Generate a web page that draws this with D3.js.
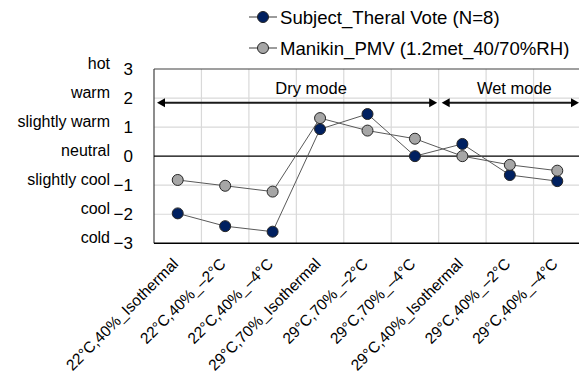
<!DOCTYPE html>
<html>
<head>
<meta charset="utf-8">
<script src="https://cdn.jsdelivr.net/npm/d3@7"></script>
<style>
  body { margin: 0; background: #fff; }
  svg { display: block; }
</style>
</head>
<body>
<svg id="chart"></svg>
<script>
// data
const categories = [
    "22°C,40%_Isothermal", "22°C,40%_–2°C", "22°C,40%_–4°C",
    "29°C,70%_Isothermal", "29°C,70%_–2°C", "29°C,70%_–4°C",
    "29°C,40%_Isothermal", "29°C,40%_–2°C", "29°C,40%_–4°C"
];
const subjectVote = [-1.97, -2.41, -2.6, 0.93, 1.45, 0, 0.42, -0.65, -0.86];
const manikinPMV = [-0.82, -1.02, -1.22, 1.31, 0.88, 0.6, 0, -0.3, -0.5];
const seriesNames = ["Subject_Theral Vote (N=8)", "Manikin_PMV (1.2met_40/70%RH)"];
const yTicks = [3, 2, 1, 0, -1, -2, -3];
const sensationLabels = ["hot", "warm", "slightly warm", "neutral", "slightly cool", "cool", "cold"];
const modeNames = ["Dry mode", "Wet mode"];
const modeFirst = [0, 6];
const modeLast = [5, 8];
const modeLevel = 1.84;

const width = 579, height = 383;
const plot = { left: 154, right: 581, top: 69, bottom: 243.3 };

const svg = d3.select("#chart").attr("width", width).attr("height", height);

const x = d3.scaleBand().domain(categories).range([plot.left, plot.right]);
const cx = d => x(d) + x.bandwidth() / 2;
const y = d3.scaleLinear().domain([-3, 3]).range([plot.bottom, plot.top]);

// grid
svg.append("g")
    .selectAll("line.h")
    .data(yTicks.filter(v => v !== 3 && v !== -3 && v !== 0))
    .enter().append("line")
    .attr("x1", plot.left).attr("x2", plot.right)
    .attr("y1", d => y(d)).attr("y2", d => y(d))
    .attr("stroke", "#d9d9d9").attr("stroke-width", 1.2);

svg.append("g")
    .selectAll("line.v")
    .data(categories.slice(1))
    .enter().append("line")
    .attr("x1", d => x(d)).attr("x2", d => x(d))
    .attr("y1", plot.top).attr("y2", plot.bottom)
    .attr("stroke", "#d9d9d9").attr("stroke-width", 1.2);

// frame
svg.append("line").attr("x1", plot.left).attr("x2", plot.right)
    .attr("y1", plot.top).attr("y2", plot.top).attr("stroke", "#404040").attr("stroke-width", 1.2);
svg.append("line").attr("x1", plot.left).attr("x2", plot.left)
    .attr("y1", plot.top).attr("y2", plot.bottom).attr("stroke", "#404040").attr("stroke-width", 1.2);
svg.append("line").attr("x1", plot.left).attr("x2", plot.right)
    .attr("y1", y(0)).attr("y2", y(0)).attr("stroke", "#000").attr("stroke-width", 1.2);
svg.append("line").attr("x1", plot.left).attr("x2", plot.right)
    .attr("y1", plot.bottom).attr("y2", plot.bottom).attr("stroke", "#000").attr("stroke-width", 1.6);

// y axis numbers
const yAxis = svg.append("g")
    .attr("transform", `translate(${plot.left},0)`)
    .call(d3.axisLeft(y).tickValues(yTicks).tickSize(0).tickPadding(21).tickFormat(d3.format("d")));
yAxis.select(".domain").remove();
yAxis.selectAll("text")
    .attr("font-family", "Liberation Sans, Arial, sans-serif")
    .attr("font-size", 17).attr("fill", "#000");

// sensation words
svg.append("g")
    .selectAll("text")
    .data(yTicks)
    .enter().append("text")
    .attr("x", 110)
    .attr("y", d => y(d) - 5)
    .attr("dy", "0.32em")
    .attr("text-anchor", "end")
    .attr("font-family", "Liberation Sans, Arial, sans-serif")
    .attr("font-size", 16)
    .text((d, i) => sensationLabels[i]);

// x labels
svg.append("g")
    .selectAll("text")
    .data(categories)
    .enter().append("text")
    .attr("transform", d => `translate(${cx(d) - 2},${plot.bottom + 18}) rotate(-45)`)
    .attr("text-anchor", "end")
    .attr("dy", "0.32em")
    .attr("font-family", "Liberation Sans, Arial, sans-serif")
    .attr("font-size", 15.5)
    .text(d => d);

// mode arrows
const arrowY = y(modeLevel);
const arrowHead = (px, dir) => {
    const len = 8, half = 4.5;
    return `M${px},${arrowY} L${px - dir * len},${arrowY - half} L${px - dir * len},${arrowY + half} Z`;
};
modeNames.forEach((name, i) => {
    const x1 = x(categories[modeFirst[i]]) + 3;
    const x2 = x(categories[modeLast[i]]) + x.bandwidth() - (i === 0 ? 1.5 : 2);
    svg.append("line")
        .attr("x1", x1 + 6).attr("x2", x2 - 6)
        .attr("y1", arrowY).attr("y2", arrowY)
        .attr("stroke", "#1a1a1a").attr("stroke-width", 2);
    svg.append("path").attr("d", arrowHead(x1, -1)).attr("fill", "#000");
    svg.append("path").attr("d", arrowHead(x2, 1)).attr("fill", "#000");
    svg.append("text")
        .attr("x", (x1 + x2) / 2 + (i === 0 ? 14 : 4))
        .attr("y", arrowY - 9)
        .attr("text-anchor", "middle")
        .attr("font-family", "Liberation Sans, Arial, sans-serif")
        .attr("font-size", 16.5)
        .text(name);
});

// series
const series = [
    { name: seriesNames[0], values: subjectVote, fill: "#002060" },
    { name: seriesNames[1], values: manikinPMV, fill: "#a6a6a6" }
];
const line = d3.line().x((d, i) => cx(categories[i])).y(d => y(d));

series.forEach(s => {
    svg.append("path")
        .datum(s.values)
        .attr("d", line)
        .attr("fill", "none")
        .attr("stroke", "#595959")
        .attr("stroke-width", 1);
});
series.forEach(s => {
    svg.append("g")
        .selectAll("circle")
        .data(s.values)
        .enter().append("circle")
        .attr("cx", (d, i) => cx(categories[i]))
        .attr("cy", d => y(d))
        .attr("r", 5.5)
        .attr("fill", s.fill)
        .attr("stroke", "#262626")
        .attr("stroke-width", 1);
});

// legend
const legend = svg.append("g")
    .selectAll("g")
    .data(series)
    .enter().append("g")
    .attr("transform", (d, i) => `translate(0,${17 + i * 31})`);
legend.append("line")
    .attr("x1", 249).attr("x2", 277)
    .attr("stroke", "#595959").attr("stroke-width", 1.2);
legend.append("circle")
    .attr("cx", 263).attr("r", 5.5)
    .attr("fill", d => d.fill).attr("stroke", "#262626");
legend.append("text")
    .attr("x", 280)
    .attr("dy", "0.35em")
    .attr("font-family", "Liberation Sans, Arial, sans-serif")
    .attr("font-size", 18.6)
    .text(d => d.name);
</script>
</body>
</html>
